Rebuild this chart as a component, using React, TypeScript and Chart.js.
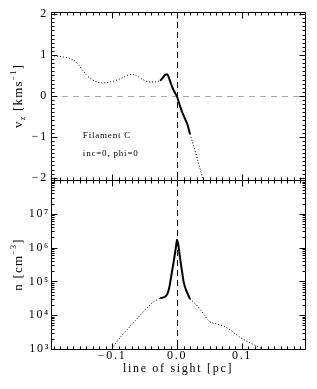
import React, { useEffect, useRef } from "react";
import { Chart, registerables } from "chart.js";

Chart.register(...registerables);

// ---------- data ----------
const X_MIN = -0.194;
const X_MAX = 0.197;

// velocity v_z [km/s] along the line of sight [pc]
const losVelLeft = [-0.194, -0.185, -0.175, -0.166, -0.158, -0.152, -0.146, -0.14, -0.133, -0.125, -0.116, -0.106, -0.096, -0.086, -0.077, -0.07, -0.063, -0.056, -0.049, -0.042, -0.034, -0.026];
const velLeft = [0.98, 0.97, 0.95, 0.92, 0.86, 0.77, 0.64, 0.52, 0.42, 0.35, 0.32, 0.33, 0.37, 0.43, 0.5, 0.53, 0.5, 0.43, 0.37, 0.34, 0.34, 0.37];
const losVelCore = [-0.026, -0.022, -0.018, -0.015, -0.012, -0.008, -0.004, 0.0, 0.004, 0.008, 0.012, 0.016, 0.02];
const velCore = [0.37, 0.44, 0.52, 0.53, 0.42, 0.24, 0.1, -0.02, -0.22, -0.4, -0.55, -0.7, -0.93];
const losVelRight = [0.02, 0.03, 0.041];
const velRight = [-0.93, -1.47, -2.1];

// density n [cm^-3]
const losDenLeft = [-0.1, -0.093, -0.085, -0.077, -0.068, -0.06, -0.052, -0.044, -0.036, -0.03, -0.026];
const denLeft = [1.0e3, 1.6e3, 2.5e3, 3.7e3, 5.8e3, 8.5e3, 1.25e4, 1.8e4, 2.5e4, 2.9e4, 3.2e4];
const losDenCore = [-0.026, -0.022, -0.018, -0.015, -0.012, -0.008, -0.005, -0.003, -0.001, 0.0, 0.002, 0.005, 0.008, 0.01, 0.014, 0.02];
const denCore = [3.2e4, 3.3e4, 3.6e4, 4.2e4, 6.5e4, 1.8e5, 4.0e5, 7.0e5, 1.3e6, 1.7e6, 1.2e6, 4.4e5, 1.8e5, 1.0e5, 5.5e4, 3.0e4];
const losDenRight = [0.02, 0.03, 0.04, 0.05, 0.06, 0.07, 0.08, 0.09, 0.1, 0.11, 0.12, 0.132];
const denRight = [3.0e4, 2.0e4, 1.15e4, 6.5e3, 5.6e3, 4.9e3, 3.9e3, 2.8e3, 2.05e3, 1.6e3, 1.3e3, 1.0e3];

// tick labels
const losTickValues = [-0.1, 0.0, 0.1];
const velTickValues = [-2, -1, 0, 1, 2];
const denTickValues = [1e3, 1e4, 1e5, 1e6, 1e7];

// ---------- helpers ----------
const SERIF = '"Liberation Serif", "Times New Roman", serif';
const SUP: Record<string, string> = { "0": "⁰", "1": "¹", "2": "²", "3": "³", "4": "⁴", "5": "⁵", "6": "⁶", "7": "⁷", "8": "⁸", "9": "⁹" };

const pts = (xs: number[], ys: number[]) => xs.map((x, i) => ({ x, y: ys[i] }));
const minus = (s: string) => s.replace("-", "\u2212");

const dotted = { borderColor: "#000", borderWidth: 1, borderDash: [1, 2], pointRadius: 0, cubicInterpolationMode: "monotone" as const, fill: false };
const solid = { borderColor: "#000", borderWidth: 2, pointRadius: 0, cubicInterpolationMode: "monotone" as const, fill: false };

type Tick = { v: number; major: boolean };
type Part = { text: string; size: number; dy: number };

function drawRotatedRich(ctx: CanvasRenderingContext2D, cx: number, cy: number, parts: Part[]) {
  ctx.save();
  ctx.translate(cx, cy);
  ctx.rotate(-Math.PI / 2);
  ctx.fillStyle = "#000";
  ctx.textBaseline = "alphabetic";
  ctx.textAlign = "left";
  (ctx as any).letterSpacing = "1.2px";
  const widths = parts.map((p) => {
    ctx.font = `${p.size}px ${SERIF}`;
    return ctx.measureText(p.text).width;
  });
  const total = widths.reduce((a, b) => a + b, 0);
  let x = -total / 2;
  parts.forEach((p, i) => {
    ctx.font = `${p.size}px ${SERIF}`;
    ctx.fillText(p.text, x, p.dy);
    x += widths[i];
  });
  ctx.restore();
}

function makeFramePlugin(opts: {
  id: string;
  yTicks: Tick[];
  hLine0: boolean;
  yTitle: Part[];
  notes: { text: string; x: number; y: number }[];
}) {
  return {
    id: opts.id,
    beforeDraw(chart: any) {
      chart.ctx.letterSpacing = "1.7px";
    },
    beforeDatasetsDraw(chart: any) {
      const { ctx, chartArea: a, scales } = chart;
      ctx.save();
      ctx.lineWidth = 1;
      if (opts.hLine0) {
        const y0 = Math.round(scales.y.getPixelForValue(0)) + 0.5;
        ctx.strokeStyle = "#a8a8a8";
        ctx.setLineDash([6, 5]);
        ctx.beginPath();
        ctx.moveTo(a.left, y0);
        ctx.lineTo(a.right, y0);
        ctx.stroke();
      }
      const x0 = Math.round(scales.x.getPixelForValue(0)) + 0.5;
      ctx.strokeStyle = "#000";
      ctx.setLineDash([6, 4]);
      ctx.beginPath();
      ctx.moveTo(x0, a.top);
      ctx.lineTo(x0, a.bottom);
      ctx.stroke();
      ctx.restore();
    },
    afterDraw(chart: any) {
      const { ctx, chartArea: a, scales } = chart;
      const xs = scales.x;
      const ys = scales.y;
      const L = Math.round(a.left) + 0.5;
      const R = Math.round(a.right) + 0.5;
      const T = Math.round(a.top) + 0.5;
      const B = Math.round(a.bottom) + 0.5;
      ctx.save();
      ctx.setLineDash([]);
      ctx.strokeStyle = "#000";
      ctx.lineWidth = 1;
      ctx.beginPath();
      ctx.rect(L, T, R - L, B - T);
      // x ticks (inward, top and bottom)
      for (let i = Math.ceil(xs.min * 100); i <= Math.floor(xs.max * 100); i++) {
        const px = Math.round(xs.getPixelForValue(i / 100)) + 0.5;
        const len = i % 10 === 0 ? 6 : 3;
        ctx.moveTo(px, T);
        ctx.lineTo(px, T + len);
        ctx.moveTo(px, B);
        ctx.lineTo(px, B - len);
      }
      // y ticks (inward, left and right)
      for (const t of opts.yTicks) {
        if (t.v < ys.min || t.v > ys.max) continue;
        const py = Math.round(ys.getPixelForValue(t.v)) + 0.5;
        const len = t.major ? 6 : 3;
        ctx.moveTo(L, py);
        ctx.lineTo(L + len, py);
        ctx.moveTo(R, py);
        ctx.lineTo(R - len, py);
      }
      ctx.stroke();
      ctx.restore();

      drawRotatedRich(ctx, 22, (a.top + a.bottom) / 2, opts.yTitle);

      ctx.save();
      ctx.fillStyle = "#000";
      ctx.font = `9px ${SERIF}`;
      (ctx as any).letterSpacing = "0.8px";
      ctx.textAlign = "left";
      ctx.textBaseline = "middle";
      for (const n of opts.notes) {
        ctx.fillText(n.text, xs.getPixelForValue(n.x), ys.getPixelForValue(n.y));
      }
      ctx.restore();
    },
  };
}

const velTicks: Tick[] = [];
for (let i = -20; i <= 20; i++) velTicks.push({ v: i / 10, major: i % 10 === 0 });

const denTicks: Tick[] = [];
for (let d = 3; d <= 8; d++) {
  denTicks.push({ v: Math.pow(10, d), major: true });
  if (d < 8) for (let k = 2; k <= 9; k++) denTicks.push({ v: k * Math.pow(10, d), major: false });
}

export default function App() {
  const topRef = useRef<HTMLCanvasElement>(null);
  const botRef = useRef<HTMLCanvasElement>(null);

  useEffect(() => {
    const common = {
      animation: false as const,
      responsive: false,
      devicePixelRatio: 1,
      events: [] as any[],
      plugins: { legend: { display: false }, tooltip: { enabled: false } },
    };

    const top = new Chart(topRef.current!, {
      type: "line",
      data: {
        datasets: [
          { data: pts(losVelLeft, velLeft), ...dotted },
          { data: pts(losVelCore, velCore), ...solid },
          { data: pts(losVelRight, velRight), ...dotted },
        ],
      },
      options: {
        ...common,
        layout: { padding: { top: 12, bottom: 10, left: 0, right: 12 } },
        scales: {
          x: { type: "linear", min: X_MIN, max: X_MAX, display: false },
          y: {
            type: "linear",
            min: -2.05,
            max: 2.05,
            grid: { display: false, drawTicks: false },
            border: { display: false },
            afterBuildTicks: (s: any) => {
              s.ticks = velTickValues.map((v) => ({ value: v }));
            },
            afterFit: (s: any) => {
              s.width = 51;
            },
            ticks: {
              color: "#000",
              padding: 3,
              font: { family: SERIF, size: 12 },
              callback: (v: any) => minus(String(Math.round(Number(v)))),
            },
          },
        },
      } as any,
      plugins: [
        makeFramePlugin({
          id: "frameTop",
          yTicks: velTicks,
          hLine0: true,
          yTitle: [
            { text: "v", size: 13, dy: 0 },
            { text: "z", size: 8, dy: 3 },
            { text: " [kms", size: 13, dy: 0 },
            { text: "\u22121", size: 8, dy: -6 },
            { text: "]", size: 13, dy: 0 },
          ],
          notes: [
            { text: "Filament C", x: -0.145, y: -0.98 },
            { text: "inc=0, phi=0", x: -0.145, y: -1.42 },
          ],
        }),
      ],
    });

    const bot = new Chart(botRef.current!, {
      type: "line",
      data: {
        datasets: [
          { data: pts(losDenLeft, denLeft), ...dotted },
          { data: pts(losDenCore, denCore), ...solid },
          { data: pts(losDenRight, denRight), ...dotted },
        ],
      },
      options: {
        ...common,
        layout: { padding: { top: 10, bottom: 0, left: 0, right: 12 } },
        scales: {
          x: {
            type: "linear",
            min: X_MIN,
            max: X_MAX,
            grid: { display: false, drawTicks: false },
            border: { display: false },
            afterBuildTicks: (s: any) => {
              s.ticks = losTickValues.map((v) => ({ value: v }));
            },
            afterFit: (s: any) => {
              s.height = 40;
            },
            ticks: {
              color: "#000",
              padding: 0,
              maxRotation: 0,
              font: { family: SERIF, size: 12 },
              callback: (v: any) => {
                const n = Number(v);
                return Math.abs(n) < 1e-9 ? "0.0" : minus(n.toFixed(1));
              },
            },
            title: {
              display: true,
              text: "line of sight [pc]",
              color: "#000",
              font: { family: SERIF, size: 12 },
              padding: { top: 0, bottom: 13 },
            },
          },
          y: {
            type: "logarithmic",
            min: 1e3,
            max: 1e8,
            grid: { display: false, drawTicks: false },
            border: { display: false },
            afterBuildTicks: (s: any) => {
              s.ticks = denTickValues.map((v) => ({ value: v }));
            },
            afterFit: (s: any) => {
              s.width = 51;
            },
            ticks: {
              color: "#000",
              padding: 1,
              font: { family: SERIF, size: 12 },
              callback: (v: any) => {
                const e = String(Math.round(Math.log10(Number(v))));
                return "10" + e.split("").map((c) => SUP[c] || c).join("");
              },
            },
          },
        },
      } as any,
      plugins: [
        makeFramePlugin({
          id: "frameBot",
          yTicks: denTicks,
          hLine0: false,
          yTitle: [
            { text: "n [cm", size: 13, dy: 0 },
            { text: "\u22123", size: 8, dy: -6 },
            { text: "]", size: 13, dy: 0 },
          ],
          notes: [],
        }),
      ],
    });

    return () => {
      top.destroy();
      bot.destroy();
    };
  }, []);

  return (
    <div style={{ position: "absolute", left: 0, top: 0, width: 317, height: 389, background: "#fff" }}>
      <canvas ref={topRef} width={317} height={190} style={{ position: "absolute", left: 0, top: 0, width: 317, height: 190 }} />
      <canvas ref={botRef} width={317} height={219} style={{ position: "absolute", left: 0, top: 170, width: 317, height: 219 }} />
    </div>
  );
}
